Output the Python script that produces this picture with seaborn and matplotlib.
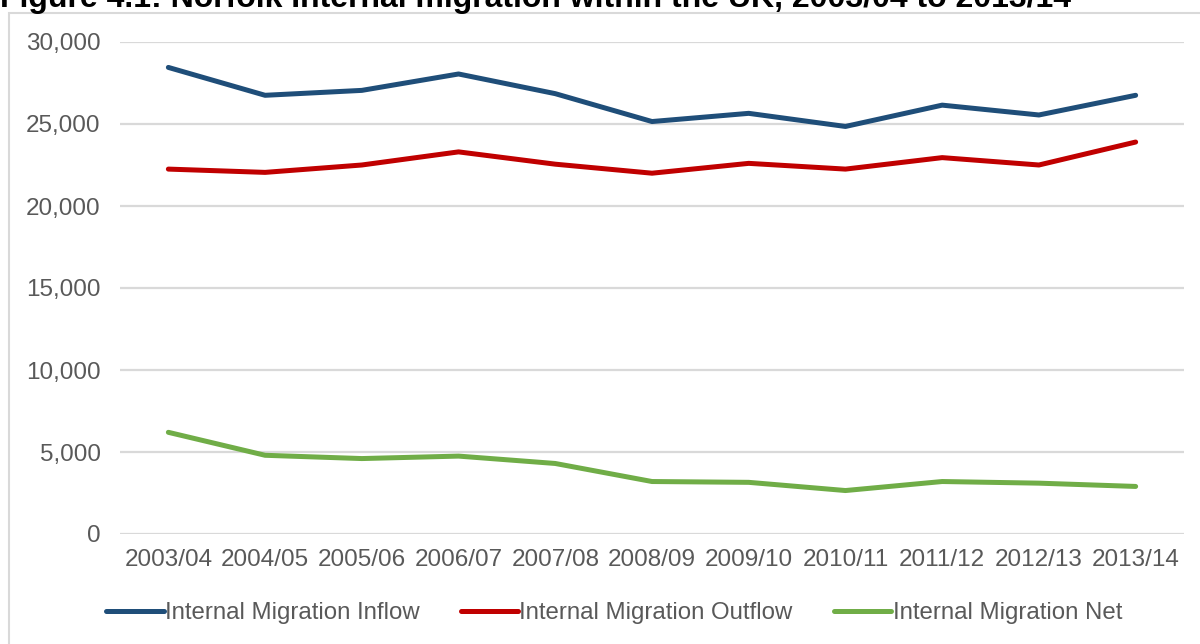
import matplotlib
matplotlib.use("Agg")
import matplotlib.pyplot as plt
from matplotlib.patches import Rectangle
from matplotlib.ticker import FuncFormatter
import seaborn as sns
import pandas as pd

# Norfolk internal migration, persons per year
years = ["2003/04", "2004/05", "2005/06", "2006/07", "2007/08", "2008/09",
         "2009/10", "2010/11", "2011/12", "2012/13", "2013/14"]
inflow = [28450, 26750, 27050, 28050, 26850, 25150, 25650, 24850, 26150, 25550, 26750]
outflow = [22250, 22050, 22500, 23300, 22550, 22000, 22600, 22250, 22950, 22500, 23900]
net = [6200, 4800, 4600, 4750, 4300, 3200, 3150, 2650, 3200, 3100, 2900]

series_names = ["Internal Migration Inflow", "Internal Migration Outflow", "Internal Migration Net"]
series_colors = ["#1F4E79", "#C00000", "#70AD47"]
title = "Figure 4.1: Norfolk Internal migration within the UK, 2003/04 to 2013/14"

rows = []
for name, vals in zip(series_names, [inflow, outflow, net]):
    for i, (yr, v) in enumerate(zip(years, vals)):
        rows.append({"pos": i, "year": yr, "series": name, "value": v})
df = pd.DataFrame(rows)

sns.set_theme(style="white")
plt.rcParams["font.family"] = ["Liberation Sans", "DejaVu Sans"]
text_grey = "#595959"
grid_grey = "#D9D9D9"

fig = plt.figure(figsize=(12, 6.44), dpi=100)
ax = fig.add_axes([120 / 1200, 1 - 534 / 644, (1184 - 120) / 1200, (534 - 42) / 644])

sns.lineplot(data=df, x="pos", y="value", hue="series", hue_order=series_names,
             palette=series_colors, linewidth=3.6, ax=ax, legend=False, sort=False)

ax.set_xlim(-0.5, len(years) - 0.5)
ax.set_ylim(0, 30000)
ax.set_yticks(range(0, 30001, 5000))
ax.yaxis.set_major_formatter(FuncFormatter(lambda v, p: f"{int(v):,}"))
ax.set_xticks(range(len(years)))
ax.set_xticklabels(years)
ax.set_xlabel("")
ax.set_ylabel("")
ax.tick_params(axis="both", length=0, labelsize=17.5, labelcolor=text_grey)
ax.tick_params(axis="x", pad=11)
ax.tick_params(axis="y", pad=14)
ax.grid(axis="y", color=grid_grey, linewidth=1.6)
ax.set_axisbelow(True)
for s in ax.spines.values():
    s.set_visible(False)

# legend along the bottom
handles = [plt.Line2D([], [], color=c, linewidth=3.6) for c in series_colors]
fig.legend(handles, series_names, loc="center", bbox_to_anchor=(614 / 1200, 1 - 613 / 644),
           ncol=3, frameon=False, fontsize=17.3, labelcolor=text_grey,
           handlelength=2.4, handletextpad=0.05, columnspacing=1.7)

# chart area border
fig.patches.append(Rectangle((8.5 / 1200, -0.05), 1.1, 1 - 13 / 644 + 0.05,
                             transform=fig.transFigure, fill=False,
                             edgecolor=grid_grey, linewidth=1.5))

fig.text(0.0, 1 - 7 / 644, title, fontsize=23, fontweight="bold",
         color="black", ha="left", va="baseline")

fig.savefig("out.png", dpi=100, facecolor="white")
